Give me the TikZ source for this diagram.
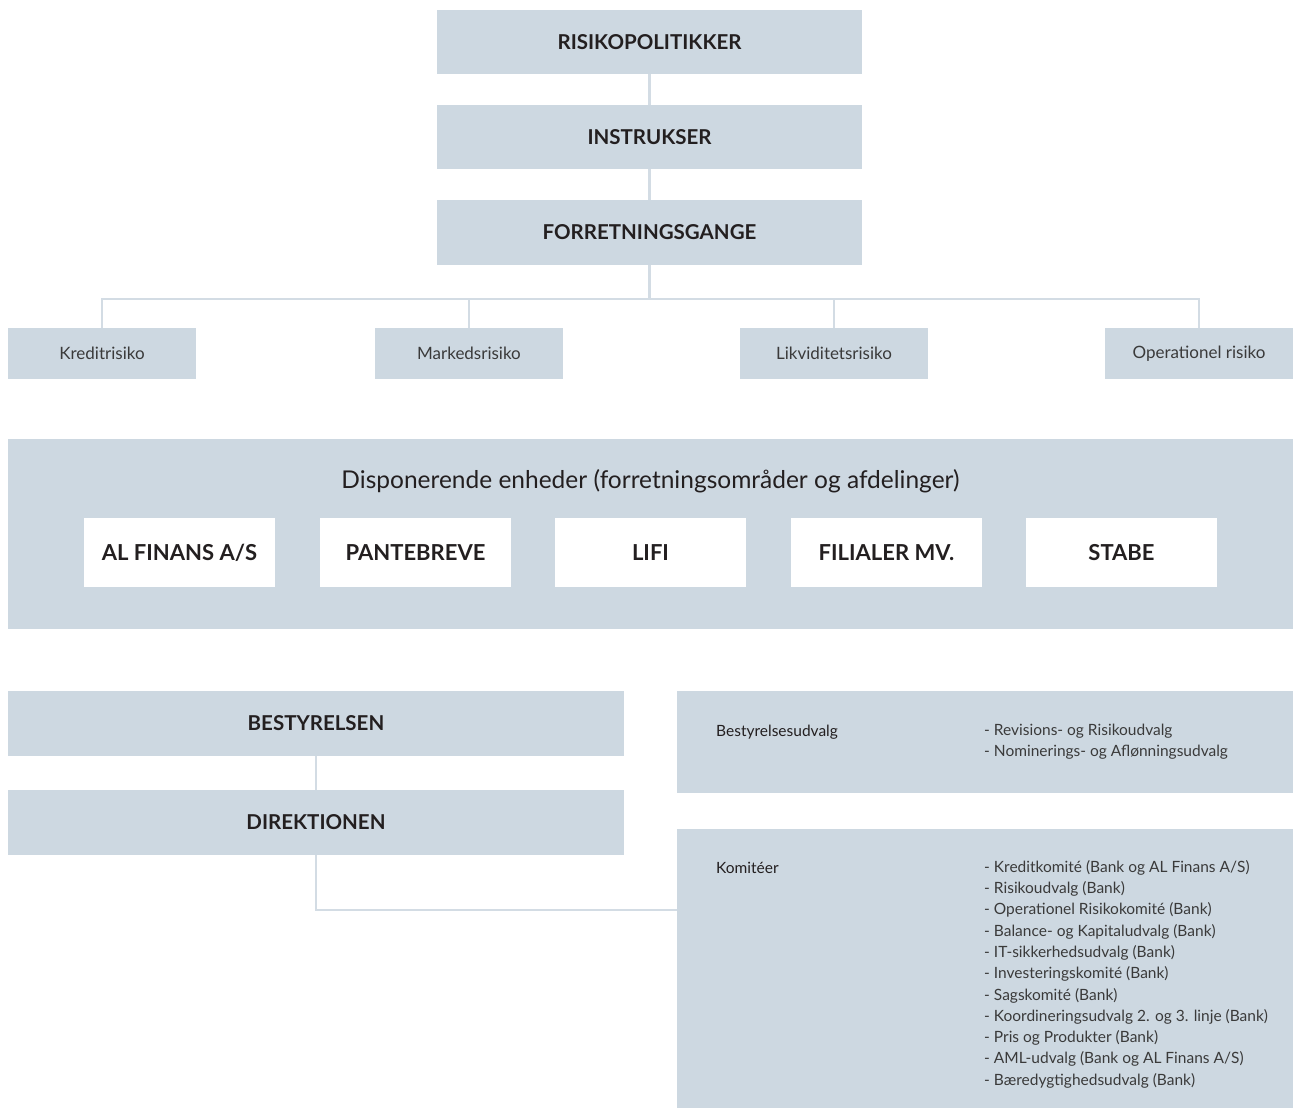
\documentclass[tikz,border=0pt]{standalone}
\usepackage{fontspec}
\setmainfont{Lato}
\definecolor{boxblue}{HTML}{CDD8E1}
\definecolor{lineblue}{HTML}{D3DCE4}
\definecolor{textdark}{HTML}{231F20}
\definecolor{textgrey}{HTML}{3A3A3A}
\begin{document}
\begin{tikzpicture}[x=1pt,y=-1pt,
  box/.style={fill=boxblue, inner sep=0pt, text=textdark},
  capbox/.style={box, minimum width=425pt, minimum height=64pt, font=\bfseries\fontsize{20.5}{24}\selectfont},
  riskbox/.style={box, minimum width=188pt, minimum height=51pt, text=textgrey, font=\fontsize{17}{20}\selectfont},
  unitbox/.style={fill=white, inner sep=0pt, text=textdark, minimum width=191pt, minimum height=69pt, font=\bfseries\fontsize{22}{26}\selectfont},
  govbox/.style={box, minimum width=616pt, minimum height=65pt, font=\bfseries\fontsize{20.5}{24}\selectfont},
  conn/.style={draw=lineblue, line width=2.5pt},
  lbl/.style={inner sep=0pt, text=textdark, font=\fontsize{15.5}{21.3}\selectfont},
  lst/.style={inner sep=0pt, text=textgrey, align=left, font=\fontsize{15.5}{21.3}\selectfont}]
\useasboundingbox (0,0) rectangle (1293,1109);

% top chain
\node[capbox] (rp) at (649.5,42) {RISIKOPOLITIKKER};
\node[capbox] (ins) at (649.5,137) {INSTRUKSER};
\node[capbox, minimum height=65pt] (fg) at (649.5,232.5) {FORRETNINGSGANGE};
\draw[conn] (rp.south) -- (ins.north);
\draw[conn] (ins.south) -- (fg.north);

% risk types
\node[riskbox] (kr) at (102,353.5) {Kreditrisiko};
\node[riskbox] (ma) at (469,353.5) {Markedsrisiko};
\node[riskbox] (li) at (834,353.5) {Likviditetsrisiko};
\node[riskbox] (op) at (1199,353.5) {Operationel risiko};
\coordinate (bus) at (649.5,299);
\draw[conn] (fg.south) -- (bus);
\draw[conn] (kr.north) -- (kr.north |- bus) -- (op.north |- bus) -- (op.north);
\draw[conn] (ma.north) -- (ma.north |- bus);
\draw[conn] (li.north) -- (li.north |- bus);

% units
\node[box, minimum width=1285pt, minimum height=190pt] (dis) at (650.5,534) {};
\node[inner sep=0pt, text=textdark, font=\fontsize{24.5}{28}\selectfont] (dist) at (650.5,481) {Disponerende enheder (forretningsområder og afdelinger)};
\node[unitbox] (alf) at (179.5,552.5) {AL FINANS A/S};
\node[unitbox] (pan) at (415.5,552.5) {PANTEBREVE};
\node[unitbox] (lifi) at (650.5,552.5) {LIFI};
\node[unitbox] (fil) at (886.5,552.5) {FILIALER MV.};
\node[unitbox] (sta) at (1121.5,552.5) {STABE};

% governance
\node[govbox] (bes) at (316,723.5) {BESTYRELSEN};
\node[govbox] (dir) at (316,822.5) {DIREKTIONEN};
\draw[conn] (bes.south) -- (dir.north);

\node[box, minimum width=616pt, minimum height=102pt] (bu) at (985,742) {};
\node[box, minimum width=616pt, minimum height=279pt] (kom) at (985,968.5) {};
\coordinate (kj) at (677,910);
\draw[conn] (dir.south) |- (kj);

\node[lbl, anchor=base west] (bul) at (716,736) {Bestyrelsesudvalg};
\node[lst, anchor=north west] (bulst) at (984,724) {- Revisions- og Risikoudvalg\\- Nominerings- og Aflønningsudvalg};
\node[lbl, anchor=base west] (koml) at (716,873) {Komitéer};
\node[lst, anchor=north west] (komlst) at (984,860) {- Kreditkomité (Bank og AL Finans A/S)\\
- Risikoudvalg (Bank)\\
- Operationel Risikokomité (Bank)\\
- Balance- og Kapitaludvalg (Bank)\\
- IT-sikkerhedsudvalg (Bank)\\
- Investeringskomité (Bank)\\
- Sagskomité (Bank)\\
- Koordineringsudvalg 2. og 3. linje (Bank)\\
- Pris og Produkter (Bank)\\
- AML-udvalg (Bank og AL Finans A/S)\\
- Bæredygtighedsudvalg (Bank)};
\end{tikzpicture}
\end{document}
